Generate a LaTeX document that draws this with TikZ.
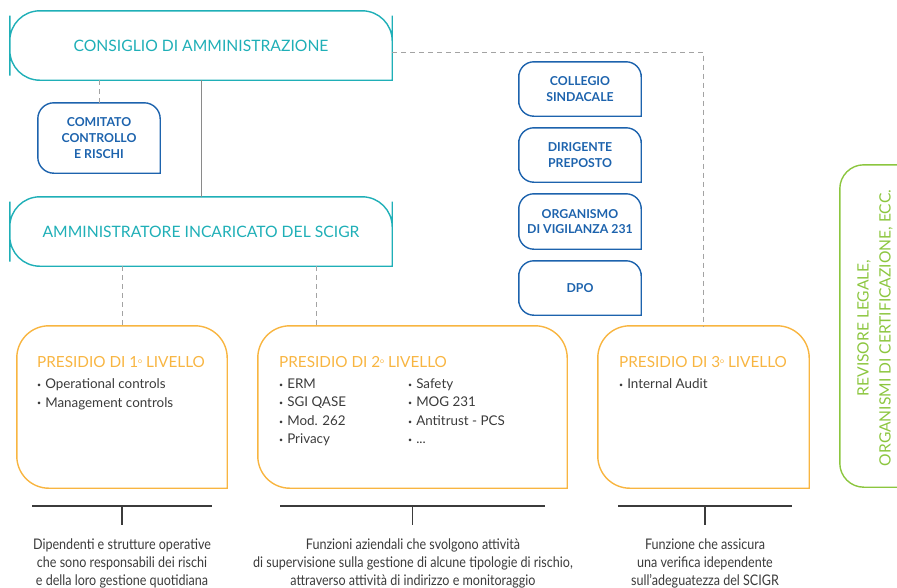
\documentclass[tikz,border=0pt]{standalone}
\usepackage{fontspec}
\setmainfont{Lato}
\newfontfamily\notefont{Lato}[FakeStretch=0.86]

\definecolor{cteal}{HTML}{1FAFB7}
\definecolor{cblue}{HTML}{1D63AD}
\definecolor{corange}{HTML}{F8B541}
\definecolor{cgreen}{HTML}{8CC63F}
\definecolor{cdash}{HTML}{A3A3A3}
\definecolor{ctext}{HTML}{3B3B3B}

\newcommand{\itm}{{\fontsize{7}{7}\selectfont\raisebox{1.2pt}{•}}\hspace{4pt}}
\newcommand{\ordo}{\raisebox{0.55ex}{\fontsize{7}{7}\selectfont o}}

\tikzstyle{board}=[inner sep=0pt,minimum width=382pt,minimum height=69pt,text=cteal,font=\fontsize{15.7}{18}\selectfont]
\tikzstyle{organ}=[inner sep=0pt,minimum width=122pt,minimum height=54pt,align=center,text=cblue,font=\bfseries\fontsize{12.3}{15.8}\selectfont]
\tikzstyle{presidio}=[inner sep=0pt,minimum height=162pt]
\tikzstyle{phead}=[inner sep=0pt,anchor=west,text=corange,font=\fontsize{15.3}{18}\selectfont]
\tikzstyle{plist}=[inner sep=0pt,anchor=north west,align=left,text=ctext,font=\fontsize{13.4}{18.5}\selectfont]
\tikzstyle{note}=[inner sep=0pt,align=center,text=ctext,font=\notefont\fontsize{14.6}{18}\selectfont]
\tikzstyle{edge} = [draw,line width=1pt,cdash!85!black]
\tikzstyle{dash edge} = [draw,line width=1pt,cdash,dash pattern=on 5pt off 4pt]
\tikzstyle{brace edge} = [draw,line width=1.2pt,ctext]

\begin{document}
\begin{tikzpicture}[x=1pt,y=-1pt]
			\useasboundingbox (0,0) rectangle (897,587);
			% governance boxes
			\node[board] (cda) at (201,45.5) {CONSIGLIO DI AMMINISTRAZIONE};
			\node[board] (aci) at (201,231.5) {AMMINISTRATORE INCARICATO DEL SCIGR};
			\node[organ,minimum height=70pt] (ccr) at (99,138) {COMITATO\\CONTROLLO\\E RISCHI};
			\node[organ] (csi) at (580,89) {COLLEGIO\\SINDACALE};
			\node[organ] (dir) at (580,155) {DIRIGENTE\\PREPOSTO};
			\node[organ,minimum height=55pt] (odv) at (580,221.5) {ORGANISMO\\DI VIGILANZA 231};
			\node[organ] (dpo) at (580,288) {DPO};
			% three levels
			\node[presidio,minimum width=210pt] (p1) at (122,407) {};
			\node[presidio,minimum width=309pt] (p2) at (412.5,407) {};
			\node[presidio,minimum width=211pt] (p3) at (703.5,407) {};
			\node[phead] (h1) at (37,362) {PRESIDIO DI 1\ordo\ LIVELLO};
			\node[phead] (h2) at (279,362) {PRESIDIO DI 2\ordo\ LIVELLO};
			\node[phead] (h3) at (619,362) {PRESIDIO DI 3\ordo\ LIVELLO};
			\node[plist] (l1) at (37,378.5) {\itm Operational controls\\\itm Management controls};
			\node[plist] (l2a) at (279,378.5) {\itm ERM\\\itm SGI QASE\\\itm Mod. 262\\\itm Privacy};
			\node[plist] (l2b) at (408,378.5) {\itm Safety\\\itm MOG 231\\\itm Antitrust - PCS\\\itm ...};
			\node[plist] (l3) at (619,378.5) {\itm Internal Audit};
			% external box
			\node[inner sep=0pt,minimum width=110pt,minimum height=322pt] (gbox) at (895,326) {};
			\node[inner sep=0pt,rotate=90,align=center,text=cgreen,font=\fontsize{15.6}{22}\selectfont] (rev) at (875,328) {REVISORE LEGALE,\\ORGANISMI DI CERTIFICAZIONE, ECC.};
			% notes
			\node[note] (t1) at (122,563) {Dipendenti e strutture operative\\che sono responsabili dei rischi\\e della loro gestione quotidiana};
			\node[note] (t2) at (413,563) {Funzioni aziendali che svolgono attività\\di supervisione sulla gestione di alcune tipologie di rischio,\\attraverso attività di indirizzo e monitoraggio};
			\node[note] (t3) at (705,563) {Funzione che assicura\\una verifica idependente\\sull’adeguatezza del SCIGR};
			\coordinate (b1) at (122,506);
			\coordinate (b2) at (412.5,506);
			\coordinate (b3) at (705,506);
			\coordinate (k2) at ([xshift=59pt]p2.north west);
			% box outlines, bottom right corner kept square
			\foreach \n/\c/\rad in {cda/cteal/30pt,aci/cteal/30pt,ccr/cblue/16pt,csi/cblue/15pt,dir/cblue/15pt,odv/cblue/15pt,dpo/cblue/15pt,p1/corange/32pt,p2/corange/32pt,p3/corange/32pt,gbox/cgreen/24pt}
				\draw[\c,line width=1.4pt,rounded corners=\rad] (\n.west) -- (\n.north west) -- (\n.north east) -- (\n.east) [sharp corners] -- (\n.south east) -- (\n.south) [rounded corners=\rad] -- (\n.south west) -- cycle;
			% connections
			\path[edge] (cda.south) -- (aci.north);
			\path[dash edge] (ccr.north |- cda.south) -- (ccr.north);
			\path[dash edge] (p1.north |- aci.south) -- (p1.north);
			\path[dash edge] (k2 |- aci.south) -- (k2);
			\path[dash edge] ([yshift=-6.5pt]cda.east) -| (p3.north);
			% brackets over the notes
			\foreach \b/\w in {b1/90pt,b2/132.5pt,b3/87pt}
			{
				\path[brace edge] ([xshift=-\w]\b) -- ([xshift=\w]\b);
				\path[brace edge] (\b) -- ++(0,19);
			}
\end{tikzpicture}
\end{document}
